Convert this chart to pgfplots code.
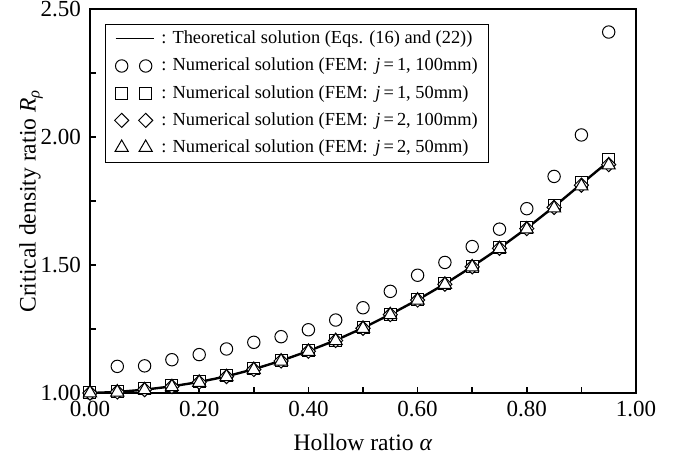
\documentclass[border=0pt]{standalone}
\usepackage{fontspec}
\setmainfont{Liberation Serif}
\usepackage{pgfplots}
\usepackage{pgfplotstable}
\pgfplotsset{compat=1.18}

\pgfplotstableread{
x y
0.00 1.000
0.05 1.104
0.10 1.106
0.15 1.130
0.20 1.150
0.25 1.172
0.30 1.198
0.35 1.220
0.40 1.247
0.45 1.285
0.50 1.333
0.55 1.397
0.60 1.460
0.65 1.510
0.70 1.572
0.75 1.640
0.80 1.720
0.85 1.846
0.90 2.008
0.95 2.410
}\tabcircle

\pgfplotstableread{
x line sq dia tri
0.00 1.000 1.000 1.000 1.000
0.05 1.004 1.006 1.004 1.003
0.10 1.013 1.016 1.013 1.012
0.15 1.026 1.028 1.025 1.024
0.20 1.043 1.045 1.042 1.041
0.25 1.065 1.067 1.064 1.063
0.30 1.093 1.095 1.092 1.091
0.35 1.126 1.127 1.125 1.124
0.40 1.164 1.165 1.163 1.162
0.45 1.206 1.207 1.205 1.204
0.50 1.254 1.255 1.253 1.252
0.55 1.307 1.308 1.306 1.305
0.60 1.364 1.365 1.363 1.362
0.65 1.426 1.427 1.425 1.424
0.70 1.494 1.496 1.493 1.492
0.75 1.566 1.568 1.565 1.563
0.80 1.644 1.647 1.642 1.640
0.85 1.728 1.732 1.725 1.722
0.90 1.817 1.822 1.812 1.808
0.95 1.905 1.913 1.892 1.890
}\tabfem

\pgfplotsset{
  marklegend/.style={legend image code/.code={%
    \draw[##1, only marks] plot coordinates {(3pt,0pt) (15pt,0pt)};}},
  linelegend/.style={legend image code/.code={%
    \draw[black, line width=0.6pt] (0pt,0pt) -- (19pt,0pt);}},
}

\begin{document}
\begin{tikzpicture}
\useasboundingbox (-45pt,-34pt) rectangle (295.5pt,196.5pt);
\begin{axis}[
  at={(0pt,0pt)}, anchor=south west,
  scale only axis,
  width=273pt, height=192pt,
  xmin=0, xmax=1, ymin=1, ymax=2.5,
  xtick={0,0.2,...,1.0},
  ytick={1,1.5,2,2.5},
  minor xtick={0.1,0.3,0.5,0.7,0.9},
  minor ytick={1.25,1.75,2.25},
  xtick pos=left, ytick pos=left,
  tick align=inside,
  major tick length=3pt, minor tick length=3pt,
  every tick/.style={black, line width=0.8pt},
  axis line style={line width=1.2pt},
  /pgf/number format/assume math mode=true,
  /pgf/number format/.cd, fixed, fixed zerofill, precision=2, /pgfplots/.cd,
  ticklabel style={font=\fontsize{11.5}{13}\selectfont},
  yticklabel style={xshift=-1pt},
  xticklabel style={yshift=-0.5pt},
  xlabel={Hollow ratio \textit{α}},
  ylabel={Critical density ratio \textit{R}\textsubscript{\textit{ρ}}},
  label style={font=\fontsize{11.8}{14}\selectfont},
  xlabel style={at={(axis description cs:0.5,-0.128)}, anchor=center},
  ylabel style={at={(axis description cs:-0.108,0.5)}, anchor=center, rotate=0},
  clip=false,
  legend cell align=left,
  legend style={
    at={(axis description cs:0.0275,0.962)}, anchor=north west,
    draw=black, line width=0.6pt,
    font=\fontsize{9.2}{11}\selectfont,
    inner xsep=4.5pt, inner ysep=1.8pt,
    row sep=2.6pt,
    nodes={inner sep=1pt, text height=7pt, text depth=2pt},
    /tikz/every odd column/.append style={column sep=2.5pt},
  },
]
\addplot[black, line width=1.2pt, no marks, linelegend] table[x=x, y=line] {\tabfem};
\addlegendentry{: Theoretical solution (Eqs. (16) and (22))}
\addplot[only marks, mark=o, mark size=3.1pt, mark options={fill=white, line width=0.5pt}, black, marklegend] table[x=x, y=y] {\tabcircle};
\addlegendentry{: Numerical solution (FEM:\, \textit{j}\,=\,1, 100mm)}
\addplot[only marks, mark=square*, mark size=3pt, mark options={fill=white, draw=black, line width=0.5pt}, black, marklegend] table[x=x, y=sq] {\tabfem};
\addlegendentry{: Numerical solution (FEM:\, \textit{j}\,=\,1, 50mm)}
\addplot[only marks, mark=square*, mark size=2.5pt, mark options={rotate=45, fill=white, draw=black, line width=0.5pt}, black, marklegend] table[x=x, y=dia] {\tabfem};
\addlegendentry{: Numerical solution (FEM:\, \textit{j}\,=\,2, 100mm)}
\addplot[only marks, mark=triangle*, mark size=3.8pt, mark options={fill=white, draw=black, line width=0.5pt}, black, marklegend] table[x=x, y=tri] {\tabfem};
\addlegendentry{: Numerical solution (FEM:\, \textit{j}\,=\,2, 50mm)}
\end{axis}
\end{tikzpicture}
\end{document}
